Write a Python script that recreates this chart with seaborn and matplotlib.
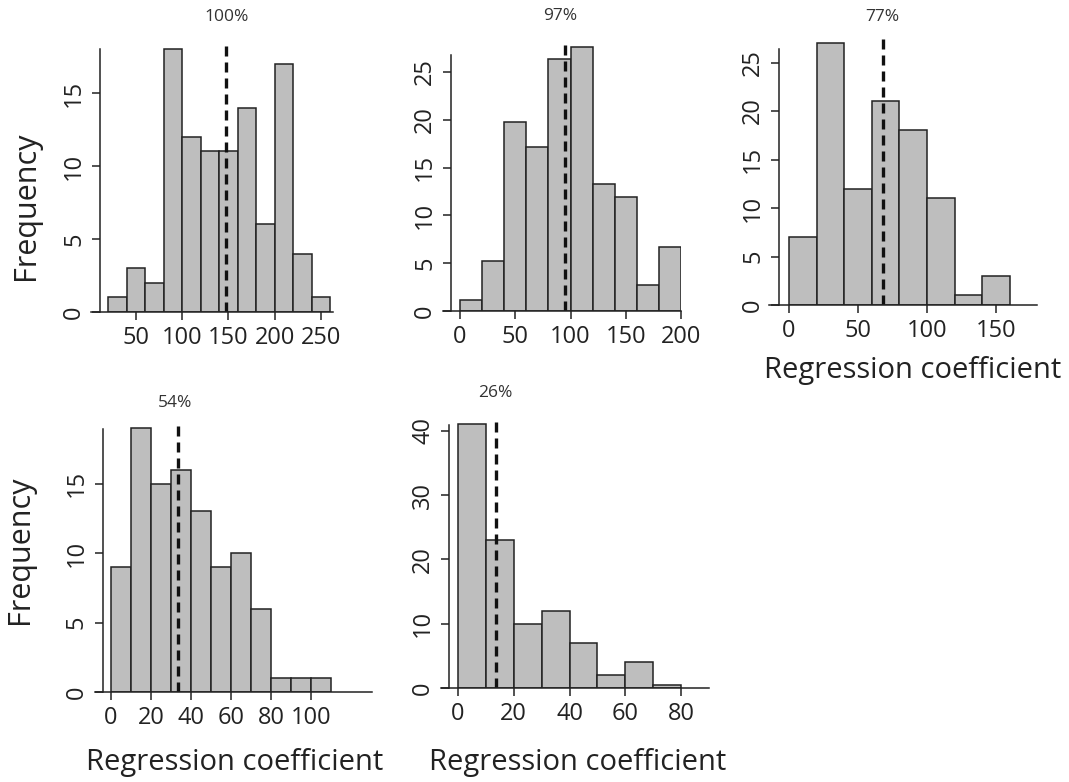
import numpy as np
import pandas as pd
import seaborn as sns
import matplotlib.pyplot as plt

sns.set_style("ticks")
plt.rcParams['font.family'] = ['Open Sans', 'DejaVu Sans']

# ---------------- data ----------------
titles = ["100%", "97%", "77%", "54%", "26%"]

edges_1 = list(range(20, 261, 20))
counts_1 = [1, 3, 2, 18, 12, 11, 11, 14, 6, 17, 4, 1]
edges_2 = list(range(0, 201, 20))
counts_2 = [1.1, 5.2, 19.8, 17.2, 26.4, 27.6, 13.3, 11.9, 2.7, 6.7]
edges_3 = list(range(0, 161, 20))
counts_3 = [7, 27, 12, 21, 18, 11, 1, 3]
edges_4 = list(range(0, 111, 10))
counts_4 = [9, 19, 15, 16, 13, 9, 10, 6, 1, 1, 1]
edges_5 = list(range(0, 81, 10))
counts_5 = [41, 23, 10, 12, 7, 2, 4, 0.5]

# dashed reference line per panel
ref_lines = [146.8, 95, 68, 33.7, 13.6]

xticks = [[50, 100, 150, 200, 250], [0, 50, 100, 150, 200], [0, 50, 100, 150],
          [0, 20, 40, 60, 80, 100], [0, 20, 40, 60, 80]]
yticks = [[0, 5, 10, 15], [0, 5, 10, 15, 20, 25], [0, 5, 10, 15, 20, 25],
          [0, 5, 10, 15], [0, 10, 20, 30, 40]]

# ---------------- layout (pixels) ----------------
W, H = 1069, 782
# left px, right px, bottom px, xlim, ylim top, left spine x, left spine top, title xy
layout = [
    dict(px=(91, 333, 312), xlim=(1.4, 263), ytop=18.3, sx=11.3, stop=18, title=(227, 17)),
    dict(px=(443, 681, 311), xlim=(-15.4, 200), ytop=28.3, sx=-8.1, stop=26.8, title=(560, 16)),
    dict(px=(769, 1037, 305), xlim=(-14.5, 179.7), ytop=27.7, sx=-7.2, stop=26.4, title=(882, 17)),
    dict(px=(95, 372, 692), xlim=(-8, 130.5), ytop=19.4, sx=-4.2, stop=18.9, title=(175, 403)),
    dict(px=(441, 709, 688), xlim=(-6.1, 90), ytop=41.8, sx=-3.2, stop=40.9, title=(495, 393)),
]
ppu_y = [14.6, 9.56, 9.7, 13.9, 6.43]

all_edges = [edges_1, edges_2, edges_3, edges_4, edges_5]
all_counts = [counts_1, counts_2, counts_3, counts_4, counts_5]

fig = plt.figure(figsize=(W / 100, H / 100), dpi=100)

for i in range(5):
    lay = layout[i]
    x0, x1, yb = lay["px"]
    h = lay["ytop"] * ppu_y[i]
    ax = fig.add_axes([x0 / W, 1 - yb / H, (x1 - x0) / W, h / H])

    edges = np.array(all_edges[i], dtype=float)
    df = pd.DataFrame({"coef": (edges[:-1] + edges[1:]) / 2, "n": all_counts[i]})
    sns.histplot(data=df, x="coef", weights="n", bins=all_edges[i], ax=ax,
                 color="#bebebe", edgecolor="#222222", linewidth=1.1, alpha=1)
    ax.axvline(ref_lines[i], color="#111111", lw=2.4, linestyle=(0, (3, 1.8)))

    ax.set_xlim(*lay["xlim"])
    ax.set_ylim(0, lay["ytop"])
    ax.set_xticks(xticks[i])
    ax.set_yticks(yticks[i])
    ax.set_xlabel("")
    ax.set_ylabel("")

    ax.spines[["top", "right"]].set_visible(False)
    ax.spines["left"].set_position(("data", lay["sx"]))
    ax.spines["left"].set_bounds(0, lay["stop"])
    for s in ["left", "bottom"]:
        ax.spines[s].set_color("#222222")
        ax.spines[s].set_linewidth(1.1)

    ax.tick_params(axis="both", direction="out", length=6, width=1.1,
                   color="#222222", labelsize=17, labelcolor="#222222", pad=4)
    ax.tick_params(axis="y", labelrotation=90)
    for lab in ax.get_yticklabels():
        lab.set_va("center")

    tx, ty = lay["title"]
    fig.text(tx / W, 1 - ty / H, titles[i], ha="center", va="center",
             fontsize=12.5, color="#333333")

# axis labels
for (x, y) in [(26, 206), (20, 550)]:
    fig.text(x / W, 1 - y / H, "Frequency", rotation=90, ha="center", va="center",
             fontsize=22, color="#222222")
for (x, y) in [(913, 378), (235, 770), (578, 770)]:
    fig.text(x / W, 1 - y / H, "Regression coefficient", ha="center", va="baseline",
             fontsize=21, color="#222222")

fig.savefig("out.png", dpi=100)
